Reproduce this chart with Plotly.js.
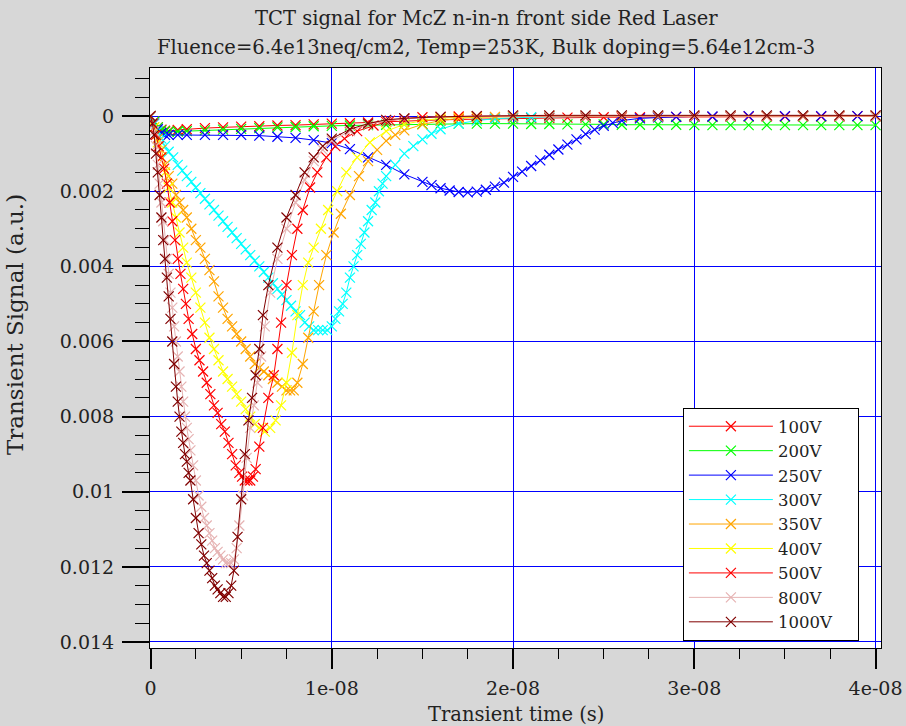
<!DOCTYPE html>
<html>
<head>
<meta charset="utf-8">
<script src="https://cdn.plot.ly/plotly-3.0.1.min.js"></script>
<style>html,body{margin:0;padding:0;background:#d7d7d7;}#chart{width:906px;height:726px;}</style>
</head>
<body>
<div id="chart"></div>
<script>
// time values in ns, signal in a.u.
const t100 = [0,0.2,0.4,0.6,0.8,1,1.5,2,3,4,5,6,7,8,9,10,11,12,13,14,15,16,17,18,19,20,21,22,23,24,25,26,27,28,29,30,31,32,33,34,35,36,37,38,39,40];
const v100 = [0,0.00015,0.0003,0.00036,0.00039,0.0004,0.00037,0.00035,0.00032,0.0003,0.00028,0.00027,0.00025,0.00024,0.00022,0.0002,0.00019,0.00017,0.00015,0.00014,0.00012,0.0001,0.00009,0.00008,0.00007,0.00006,0.00005,0.00005,0.00004,0.00004,0.00003,0.00003,0.00003,0.00002,0.00002,0.00002,0.00002,0.00001,0.00001,0.00001,0.00001,0.00001,0.00001,0.00001,0,0];

const t200 = [0,0.2,0.4,0.6,0.8,1,1.5,2,3,4,5,6,7,8,9,10,11,12,13,14,15,16,17,18,19,20,21,22,23,24,25,26,27,28,29,30,31,32,33,34,35,36,37,38,39,40];
const v200 = [0,0.00015,0.0003,0.00038,0.00041,0.00042,0.00041,0.0004,0.00038,0.00036,0.00034,0.00032,0.0003,0.00029,0.00027,0.00026,0.00025,0.00024,0.00023,0.00022,0.00021,0.0002,0.0002,0.0002,0.0002,0.0002,0.00021,0.00021,0.00022,0.00022,0.00022,0.00023,0.00023,0.00023,0.00023,0.00024,0.00024,0.00024,0.00024,0.00024,0.00024,0.00024,0.00024,0.00024,0.00024,0.00024];

const t250 = [0,0.2,0.4,0.6,0.8,1,1.5,2,3,4,5,6,7,8,9,10,11,12,13,14,15,15.5,16,16.5,17,17.5,18,18.5,19,19.5,20,20.5,21,21.5,22,22.5,23,23.5,24,24.5,25,25.5,26,27,28,29,30,31,32,33,34,35,36,37,38,39,40];
const v250 = [0,0.0002,0.00035,0.00045,0.0005,0.0005,0.0005,0.0005,0.0005,0.0005,0.0005,0.00052,0.00055,0.00058,0.00064,0.00072,0.00088,0.0011,0.0013,0.00155,0.00175,0.00184,0.00192,0.00198,0.00202,0.00203,0.00201,0.00196,0.00188,0.00177,0.00162,0.00148,0.00133,0.00118,0.00103,0.00089,0.00076,0.00062,0.00048,0.00036,0.00026,0.00018,0.00012,0.00006,0.00003,0.00002,0.00001,0.00001,0,0,0,0,0,0,0,0,0];

const t300 = [0,0.2,0.4,0.6,0.8,1,1.25,1.5,1.75,2,2.25,2.5,2.75,3,3.25,3.5,3.75,4,4.25,4.5,4.75,5,5.25,5.5,5.75,6,6.25,6.5,6.75,7,7.25,7.5,7.75,8,8.25,8.5,8.75,9,9.25,9.5,9.75,10,10.2,10.4,10.6,10.8,11,11.2,11.4,11.6,11.8,12,12.2,12.4,12.6,12.8,13,13.5,14,14.5,15,15.5,16,17,18,19,20,21,22,24,26,28,30,32,34,36,38,40];
const v300 = [0,0.0002,0.0004,0.0006,0.0008,0.00095,0.0011,0.0013,0.00145,0.0016,0.00175,0.0019,0.00205,0.0022,0.00235,0.0025,0.00265,0.0028,0.00295,0.0031,0.00325,0.0034,0.00355,0.0037,0.00385,0.004,0.00415,0.0043,0.00445,0.0046,0.00475,0.0049,0.00505,0.0052,0.0053,0.0055,0.0056,0.0057,0.0057,0.0057,0.0057,0.0056,0.0054,0.0052,0.005,0.0047,0.0043,0.004,0.0037,0.0034,0.0031,0.0028,0.0025,0.0023,0.002,0.0018,0.0016,0.0013,0.001,0.0008,0.00062,0.00047,0.00035,0.0002,0.00012,0.00007,0.00004,0.00003,0.00002,0.00001,0,0,0,0,0,0,0,0];

const t350 = [0,0.2,0.4,0.6,0.8,1,1.2,1.4,1.6,1.8,2,2.25,2.5,2.75,3,3.25,3.5,3.75,4,4.25,4.5,4.75,5,5.25,5.5,5.75,6,6.25,6.5,6.75,7,7.25,7.5,7.7,7.9,8.1,8.4,8.7,9,9.3,9.7,10.1,10.5,11,11.5,12,12.5,13,13.5,14,15,16,17,18,19,20,22,24,26,28,30,32,34,36,38,40];
const v350 = [0,0.0003,0.0006,0.0009,0.0013,0.0016,0.0018,0.0021,0.0023,0.0025,0.0027,0.003,0.0033,0.0035,0.0038,0.0041,0.0044,0.0048,0.0051,0.0054,0.0056,0.0058,0.006,0.0062,0.0064,0.0066,0.0067,0.0068,0.0069,0.007,0.0071,0.0072,0.0073,0.0073,0.0073,0.0071,0.0066,0.0059,0.0052,0.0045,0.0037,0.0031,0.0026,0.0021,0.0016,0.0012,0.0009,0.00066,0.0005,0.00038,0.00022,0.00012,0.00006,0.00003,0.00002,0.00001,0,0,0,0,0,0,0,0,0,0];

const t400 = [0,0.2,0.4,0.6,0.8,1,1.2,1.4,1.6,1.8,2,2.25,2.5,2.75,3,3.25,3.5,3.75,4,4.25,4.5,4.75,5,5.25,5.5,5.75,6,6.3,6.6,6.9,7.2,7.5,7.8,8.1,8.4,8.7,9,9.4,9.8,10.3,10.8,11.4,12.1,13,14,15,16,17,18,20,22,24,26,28,30,32,34,36,38,40];
const v400 = [0,0.0003,0.0007,0.0011,0.0015,0.0019,0.0023,0.0027,0.0031,0.0035,0.0039,0.0043,0.0047,0.0051,0.0055,0.0059,0.0062,0.0065,0.0068,0.007,0.0072,0.0074,0.0076,0.0078,0.008,0.0082,0.0083,0.0084,0.0083,0.0081,0.0077,0.0071,0.0063,0.0053,0.0045,0.0039,0.0035,0.003,0.0025,0.002,0.0015,0.0011,0.0007,0.0004,0.00022,0.00012,0.00006,0.00003,0.00002,0.00001,0,0,0,0,0,0,0,0,0,0];

const t500 = [0,0.15,0.3,0.45,0.6,0.75,0.9,1.05,1.2,1.35,1.5,1.65,1.8,1.95,2.1,2.3,2.5,2.7,2.9,3.1,3.3,3.5,3.7,3.9,4.1,4.3,4.5,4.7,4.9,5.05,5.2,5.35,5.5,5.65,5.8,6,6.2,6.5,6.8,7,7.2,7.5,7.8,8.1,8.4,8.8,9.2,9.7,10.2,10.7,11.4,12.3,13.2,14,15,16,17,18,20,22,24,26,28,30,32,34,36,38,40];
const v500 = [0,0.0002,0.0005,0.0008,0.0011,0.0014,0.0018,0.0023,0.0028,0.0033,0.0038,0.0042,0.0046,0.005,0.0054,0.0058,0.0062,0.0065,0.0068,0.0071,0.0074,0.0077,0.0079,0.0082,0.0084,0.0087,0.009,0.0093,0.0095,0.0096,0.0097,0.0097,0.0097,0.0096,0.0094,0.0088,0.0083,0.0075,0.0069,0.0062,0.0055,0.0045,0.0037,0.003,0.0025,0.0019,0.0015,0.0011,0.0008,0.0006,0.0004,0.00025,0.00012,0.00007,0.00003,0.00002,0.00001,0,0,0,0,0,0,0,0,0,0,0,0];

const t800 = [0,0.1,0.2,0.3,0.4,0.5,0.6,0.7,0.8,0.9,1,1.1,1.2,1.3,1.4,1.5,1.6,1.7,1.8,1.9,2,2.1,2.2,2.35,2.5,2.65,2.8,2.95,3.1,3.25,3.4,3.55,3.7,3.85,4,4.15,4.3,4.45,4.6,4.75,4.9,5.1,5.3,5.5,5.7,5.9,6.1,6.3,6.6,7,7.5,8,8.5,9,9.5,10,11,12,13,14,16,18,20,22,24,26,28,30,32,34,36,38,40];
const v800 = [0,0.0002,0.0004,0.0008,0.0013,0.0018,0.0023,0.0028,0.0033,0.0038,0.0042,0.0047,0.0051,0.0056,0.006,0.0064,0.0068,0.0072,0.0076,0.008,0.0083,0.0086,0.0089,0.0093,0.0097,0.0101,0.0104,0.0107,0.0109,0.0111,0.0113,0.0115,0.0116,0.0117,0.0118,0.0119,0.0119,0.0119,0.0118,0.0115,0.0109,0.0101,0.0091,0.0083,0.0077,0.0071,0.0064,0.0056,0.0047,0.0038,0.003,0.0023,0.0017,0.0012,0.0009,0.00065,0.0004,0.00022,0.00012,0.00007,0.00002,0,0,0,0,0,0,0,0,0,0,0,0];

const t1000 = [0,0.1,0.2,0.3,0.4,0.5,0.6,0.7,0.8,0.9,1,1.1,1.2,1.3,1.4,1.5,1.6,1.7,1.8,1.9,2,2.1,2.2,2.35,2.5,2.65,2.8,2.95,3.1,3.25,3.4,3.55,3.7,3.85,4,4.15,4.3,4.45,4.6,4.8,5,5.2,5.4,5.6,5.8,6,6.2,6.5,7,7.5,8,8.5,9,9.5,10,11,12,13,14,16,18,20,22,24,26,28,30,32,34,36,38,40];
const v1000 = [0,0.0002,0.0005,0.001,0.0015,0.0021,0.0027,0.0033,0.0038,0.0043,0.0048,0.0054,0.006,0.0066,0.0072,0.0076,0.008,0.0084,0.0087,0.009,0.0092,0.0095,0.0097,0.0102,0.0107,0.0111,0.0114,0.0117,0.0119,0.0121,0.0123,0.0125,0.0126,0.0127,0.0128,0.0128,0.0127,0.0125,0.0121,0.0112,0.0102,0.009,0.0081,0.0075,0.0069,0.0062,0.0053,0.0045,0.0035,0.0027,0.0021,0.0015,0.0011,0.0008,0.0006,0.00035,0.0002,0.0001,0.00006,0.00002,0,-0.00002,-0.00002,-0.00002,-0.00002,-0.00002,-0.00002,-0.00002,-0.00002,-0.00002,-0.00002,-0.00002];

const seriesNames = ['100V','200V','250V','300V','350V','400V','500V','800V','1000V'];
const seriesColors = ['#ff0000','#00ff00','#0000ff','#00ffff','#ffa500','#ffff00','#ff0000','#e6b3b3','#800000'];
const seriesT = [t100,t200,t250,t300,t350,t400,t500,t800,t1000];
const seriesV = [v100,v200,v250,v300,v350,v400,v500,v800,v1000];

const xTickVals = [0,1e-8,2e-8,3e-8,4e-8];
const xTickText = ['0','1e-08','2e-08','3e-08','4e-08'];
const yTickVals = [0,0.002,0.004,0.006,0.008,0.01,0.012,0.014];
const yTickText = ['0','0.002','0.004','0.006','0.008','0.01','0.012','0.014'];
const titleLines = ['TCT signal for McZ n-in-n front side Red Laser','Fluence=6.4e13neq/cm2, Temp=253K, Bulk doping=5.64e12cm-3'];
const xTitle = 'Transient time (s)';
const yTitle = 'Transient Signal (a.u.)';

const NS = 1e-9;
const PAD = '\u00a0'.repeat(4);
const traces = seriesNames.map((name,i)=>({
  type:'scatter', mode:'lines+markers', name:name + PAD,
  x: seriesT[i].map(t=>t*NS), y: seriesV[i],
  line:{color:seriesColors[i], width:1},
  marker:{symbol:'x-thin-open', size:10, color:seriesColors[i], line:{color:seriesColors[i], width:1.2}}
}));

const serif = 'DejaVu Serif, serif';
const ink = '#222';

const layout = {
  width:906, height:726,
  paper_bgcolor:'#d7d7d7', plot_bgcolor:'#ffffff',
  margin:{l:150, r:25, t:68, b:78},
  showlegend:true,
  legend:{x:0.729, y:0.4138, xanchor:'left', yanchor:'top', bgcolor:'#ffffff', bordercolor:'#000', borderwidth:1,
    font:{family:serif, size:16.5, color:ink}, itemwidth:84, tracegroupgap:0},
  xaxis:{range:[-0.03e-9, 40.3e-9], tickmode:'array', tickvals:xTickVals, ticktext:xTickText,
    ticks:'outside', ticklen:20, tickwidth:2, tickcolor:'#000', ticklabelstandoff:3,
    minor:{tickmode:'linear', tick0:0, dtick:2.5e-9, ticks:'outside', ticklen:10, tickwidth:1, tickcolor:'#000', showgrid:false},
    showgrid:true, gridcolor:'#0000ff', gridwidth:1, zeroline:false,
    showline:true, linecolor:'#000', linewidth:1, mirror:true,
    tickfont:{family:serif, size:19, color:ink}},
  yaxis:{range:[0.01416, -0.00128], tickmode:'array', tickvals:yTickVals, ticktext:yTickText,
    ticks:'outside', ticklen:27, tickwidth:2, tickcolor:'#000', ticklabelstandoff:4,
    minor:{tickmode:'linear', tick0:0, dtick:0.0005, ticks:'outside', ticklen:14, tickwidth:1, tickcolor:'#000', showgrid:false},
    showgrid:true, gridcolor:'#0000ff', gridwidth:1, zeroline:false,
    showline:true, linecolor:'#000', linewidth:1, mirror:true,
    tickfont:{family:serif, size:19, color:ink}},
  annotations:[
    {text:titleLines[0], xref:'paper', yref:'paper', x:0.4597, y:1.0845, xanchor:'center', yanchor:'middle', showarrow:false,
     font:{family:serif, size:19.5, color:ink}},
    {text:titleLines[1], xref:'paper', yref:'paper', x:0.4597, y:1.0345, xanchor:'center', yanchor:'middle', showarrow:false,
     font:{family:serif, size:19.5, color:ink}},
    {text:xTitle, xref:'paper', yref:'paper', x:0.5, y:-0.114, xanchor:'center', yanchor:'middle', showarrow:false,
     font:{family:serif, size:19.5, color:ink}},
    {text:yTitle, xref:'paper', yref:'paper', x:-0.1847, y:0.5586, xanchor:'center', yanchor:'middle', textangle:-90, showarrow:false,
     font:{family:serif, size:23, color:ink}}
  ]
};

Plotly.newPlot('chart', traces, layout, {displayModeBar:false, staticPlot:true});
</script>
</body>
</html>
